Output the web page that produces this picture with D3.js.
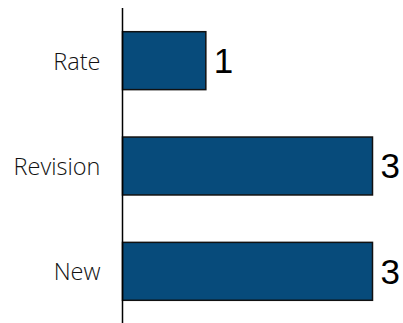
<!DOCTYPE html>
<html>
<head>
<meta charset="utf-8">
<script src="https://cdn.jsdelivr.net/npm/d3@7"></script>
<style>
html,body{margin:0;padding:0;background:#fff;}
svg{display:block;}
</style>
</head>
<body>
<svg id="chart" width="403" height="323"></svg>
<script>
const categories = ["Rate", "Revision", "New"];
const values = [1, 3, 3];

const svg = d3.select("#chart");
const y = d3.scaleBand().domain(categories).range([8, 324]).paddingInner(0.45).paddingOuter(0.225);
const x = d3.scaleLinear().domain([0, 3]).range([122.5, 372.5]);

svg.selectAll("rect.bar").data(categories).enter().append("rect")
  .attr("class", "bar")
  .attr("x", x(0))
  .attr("y", d => y(d))
  .attr("width", (d, i) => x(values[i]) - x(0))
  .attr("height", y.bandwidth())
  .attr("fill", "#074b7b")
  .attr("stroke", "#111")
  .attr("stroke-width", 1.5);

svg.selectAll("text.val").data(categories).enter().append("text")
  .attr("class", "val")
  .attr("x", (d, i) => x(values[i]) + 8)
  .attr("y", d => y(d) + y.bandwidth() / 2)
  .attr("dy", "0.35em")
  .attr("font-family", "'Liberation Sans', Arial, sans-serif")
  .attr("font-size", 35)
  .attr("fill", "#000")
  .text((d, i) => values[i]);

const axis = d3.axisLeft(y).tickSize(0).tickPadding(22);
const g = svg.append("g").attr("transform", `translate(${x(0)},0)`).call(axis);
g.select(".domain").attr("stroke", "#000").attr("stroke-width", 1.5).attr("d", "M0,8V324");
g.selectAll(".tick text")
  .attr("font-family", "'Open Sans', sans-serif")
  .attr("font-weight", 300)
  .attr("font-size", 23.5)
  .attr("dy", "0.38em")
  .attr("fill", "#111");
</script>
</body>
</html>
